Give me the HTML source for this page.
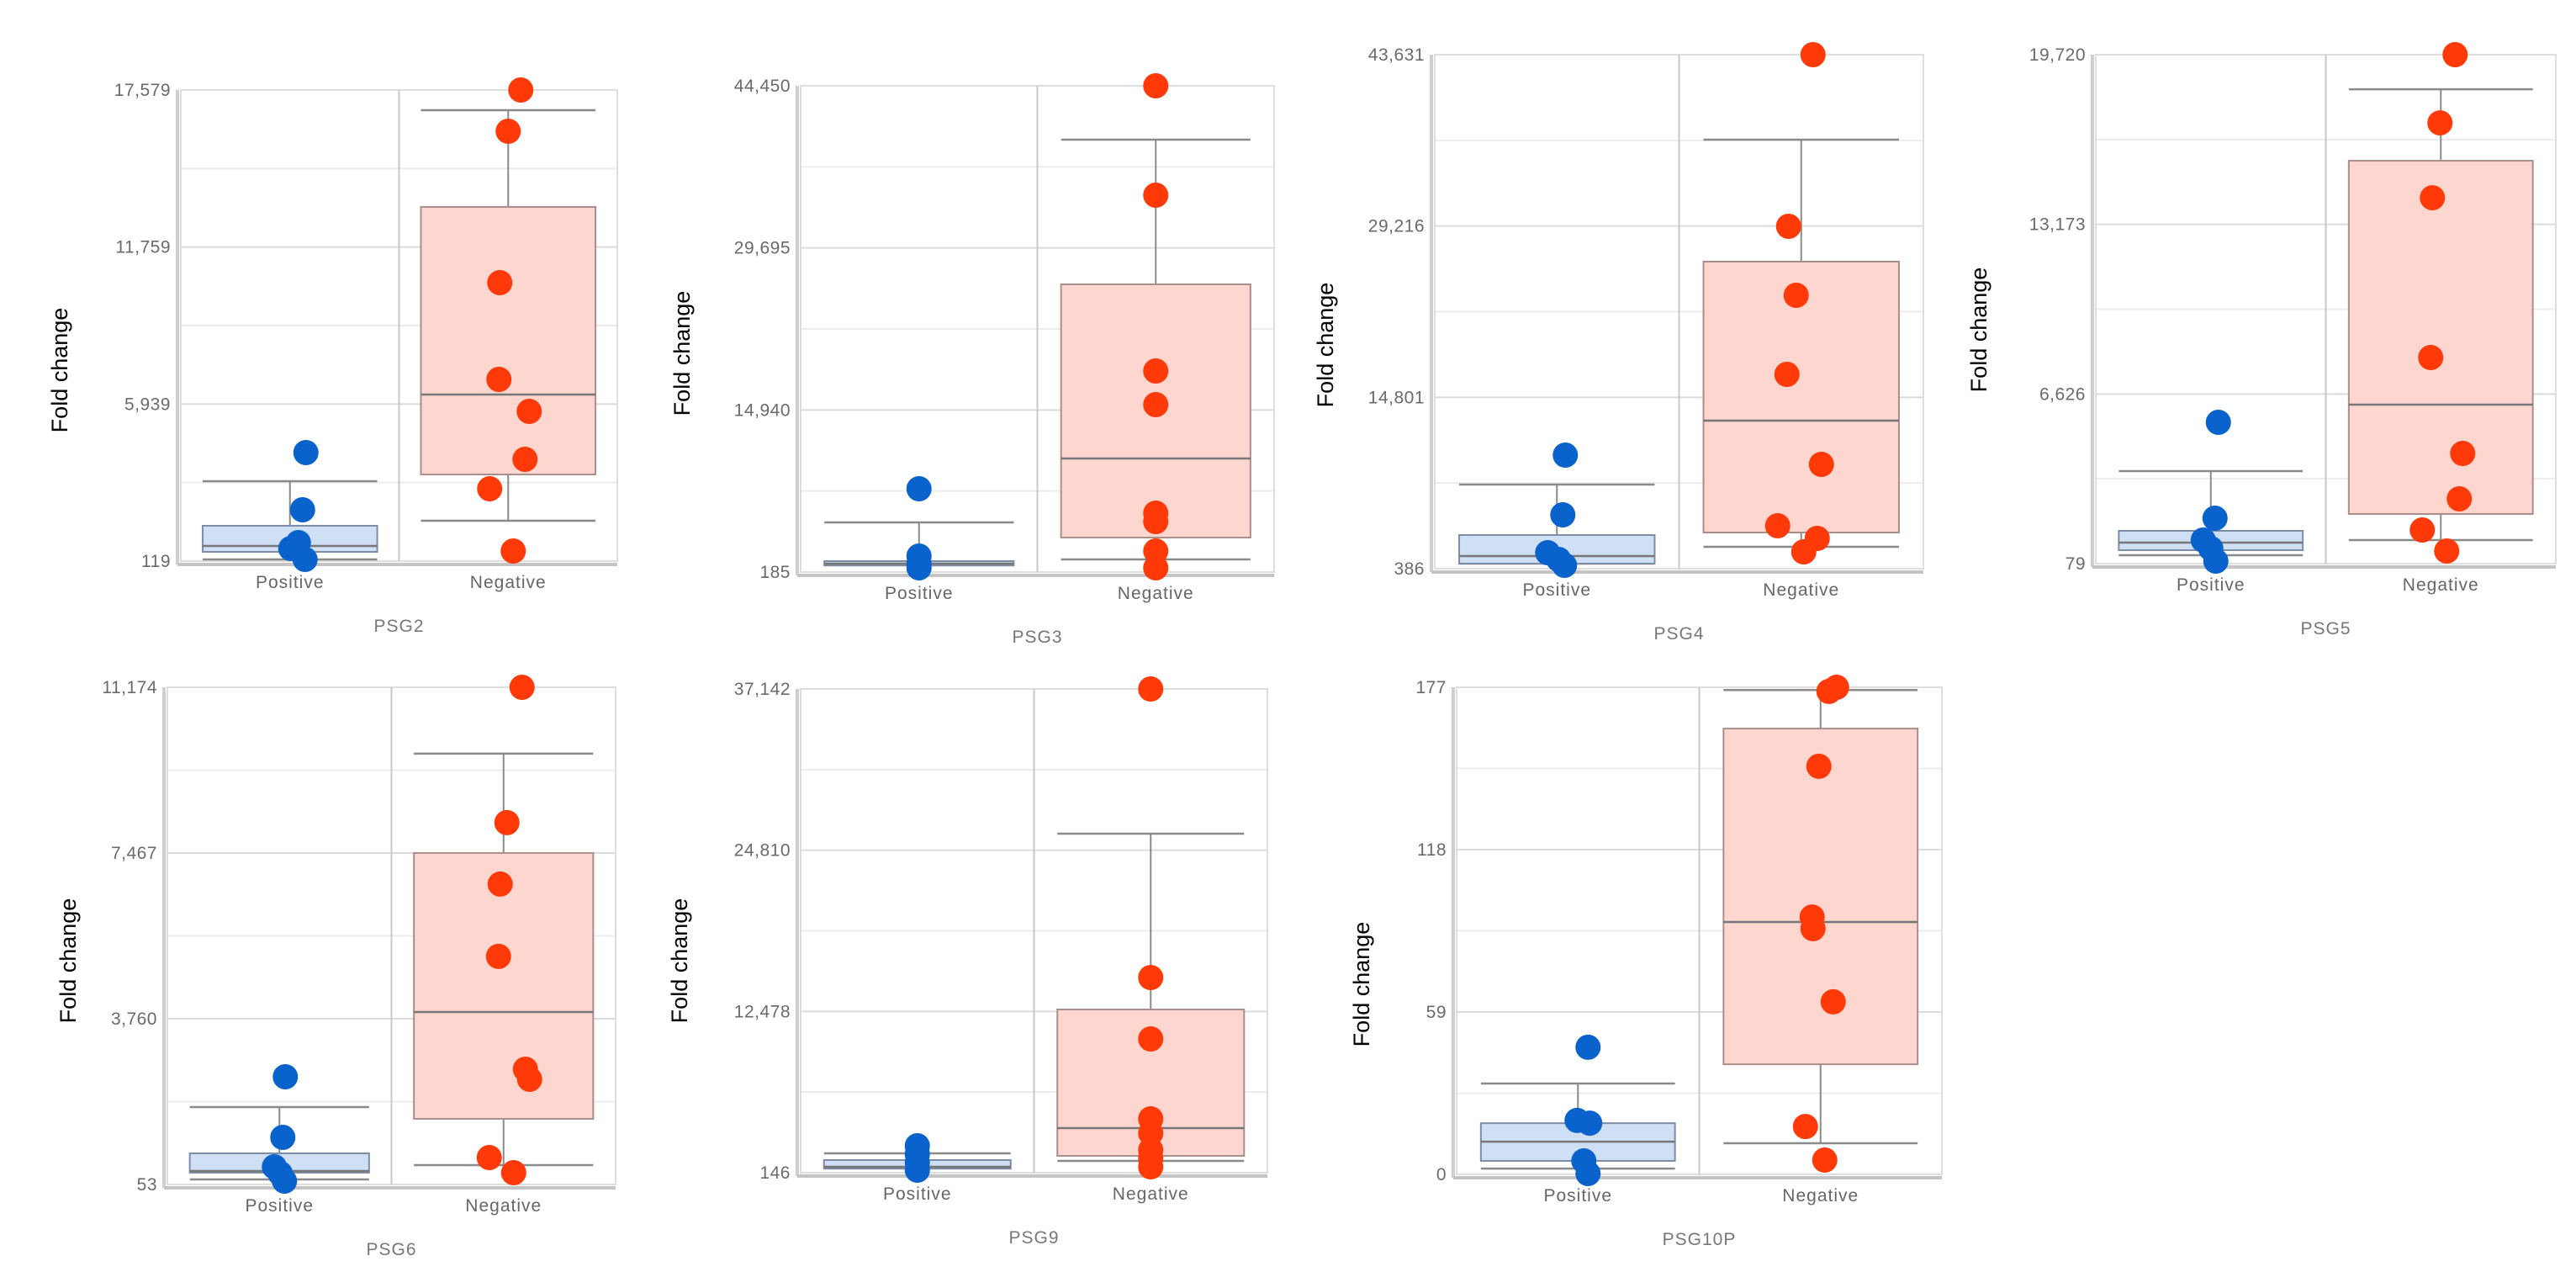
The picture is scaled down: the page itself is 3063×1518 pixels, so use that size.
<!DOCTYPE html>
<html>
<head>
<meta charset="utf-8">
<style>
html,body{margin:0;padding:0;background:#fff;}
svg{display:block;}
text{font-family:"Liberation Sans","DejaVu Sans",sans-serif;}
</style>
</head>
<body>
<svg id="fig" width="3063" height="1518" viewBox="0 0 3063 1518" xmlns="http://www.w3.org/2000/svg"></svg>
<script>
// ---- data ----
const categories = ["Positive", "Negative"];
const panelTitles = ["PSG2", "PSG3", "PSG4", "PSG5", "PSG6", "PSG9", "PSG10P"];
const axisMin = [119, 185, 386, 79, 53, 146, 0];
const axisMax = [17579, 44450, 43631, 19720, 11174, 37142, 177];
const tickLabels = [
  ["119", "5,939", "11,759", "17,579"],
  ["185", "14,940", "29,695", "44,450"],
  ["386", "14,801", "29,216", "43,631"],
  ["79", "6,626", "13,173", "19,720"],
  ["53", "3,760", "7,467", "11,174"],
  ["146", "12,478", "24,810", "37,142"],
  ["0", "59", "118", "177"]
];
// positive group points
const positivePoints = [
  [4141, 2021, 805, 586, 181],
  [7766, 1640, 951, 568],
  [9941, 4916, 1731, 1165, 669],
  [5532, 1832, 988, 663, 176],
  [2462, 1107, 448, 298, 128],
  [2205, 1561, 918, 339],
  [46.2, 19.6, 18.6, 4.9, 0.3]
];
// negative group points
const negativePoints = [
  [17579, 16050, 10440, 6854, 5670, 3892, 2800, 493],
  [44450, 34493, 18488, 15424, 5546, 4780, 2100, 568],
  [43631, 29194, 23390, 16736, 9163, 3996, 2934, 1802],
  [19720, 17088, 14199, 8032, 4331, 2578, 1377, 566],
  [11174, 8146, 6772, 5154, 2631, 2406, 655, 316],
  [37142, 15073, 10376, 4264, 3170, 1883, 1240, 596],
  [177, 175.5, 148.3, 93.5, 89.3, 62.7, 17.4, 5.2]
];
// box stats [whiskerLow, q1, median, q3, whiskerHigh]
const positiveBox = [
  [181, 462, 680, 1428, 3081],
  [798, 798, 951, 1180, 4703],
  [811, 811, 1448, 3217, 7464],
  [404, 598, 891, 1345, 3650],
  [166, 316, 354, 749, 1784],
  [468, 468, 596, 1111, 1626],
  [2.1, 4.9, 11.9, 18.6, 33]
];
const negativeBox = [
  [1616, 3330, 6293, 13246, 16832],
  [1334, 3325, 10523, 26376, 39549],
  [2226, 3430, 12843, 26221, 36484],
  [988, 1994, 6214, 15627, 18386],
  [486, 1521, 3911, 7468, 9689],
  [1047, 1433, 3556, 12628, 26075],
  [11.3, 40, 91.7, 162, 176]
];

// ---- layout (pixels, not data) ----
const layout = [
  {l:215, r:734, t:107, b:667, flx:80, fly:440},
  {l:952, r:1515, t:102, b:680, flx:820, fly:420},
  {l:1706, r:2287, t:65, b:676, flx:1585, fly:410},
  {l:2492, r:3039, t:65, b:670, flx:2362, fly:392},
  {l:199, r:732, t:817, b:1408, flx:90, fly:1142},
  {l:952, r:1507, t:819, b:1394, flx:817, fly:1142},
  {l:1732, r:2309, t:817, b:1396, flx:1628, fly:1170}
];
const jitterPos = [
  [19,15,10,1,18],[0,0,0,0],[10,7,-11,2,9],[9,5,-9,0,6],[7,4,-6,1,6],[0,0,0,0],[12,-1,14,7,12]
];
const jitterNeg = [
  [15,0,-10,-11,25,20,-22,6],[0,0,0,0,0,0,0,0],[14,-15,-6,-17,24,-28,19,3],[17,-1,-10,-12,26,22,-22,7],[22,4,-4,-6,26,31,-17,12],[0,0,0,0,0,0,0,0],[19,10,-2,-10,-9,15,-18,5]
];

const NS = "http://www.w3.org/2000/svg";
const svg = document.getElementById("fig");
function mk(tag, attrs, parent) {
  const e = document.createElementNS(NS, tag);
  for (const k in attrs) e.setAttribute(k, attrs[k]);
  (parent || svg).appendChild(e);
  return e;
}

panelTitles.forEach((title, p) => {
  const L = layout[p];
  const g = mk("g", {});
  
  
  const yScale = v => L.b - (v - axisMin[p]) / (axisMax[p] - axisMin[p]) * (L.b - L.t);
  const bandW = (L.r - L.l) / 2;
  const xCenter = i => L.l + bandW * (i + 0.5);
  const nT = tickLabels[p].length;
  const tickVal = k => axisMin[p] + (axisMax[p] - axisMin[p]) * k / (nT - 1);

  // minor gridlines
  for (let k = 0; k < nT - 1; k++) {
    const y = yScale((tickVal(k) + tickVal(k + 1)) / 2);
    const gl = mk("line", {x1:L.l, x2:L.r, y1:y, y2:y, stroke:"#ececec", "stroke-width":2}, g);
    
    
  }
  // major gridlines + tick labels
  tickLabels[p].forEach((lab, k) => {
    const y = yScale(tickVal(k));
    const gl = mk("line", {x1:L.l, x2:L.r, y1:y, y2:y, stroke:"#dcdcdc", "stroke-width":2}, g);
    
    
    const t = mk("text", {x:L.l - 12, y:y + 7, "text-anchor":"end", "font-size":21, fill:"#6a6a6a", "letter-spacing":"0.5"}, g);
    t.textContent = lab;
    
    
  });
  // frame
  const fr = mk("rect", {x:L.l, y:L.t, width:L.r - L.l, height:L.b - L.t, fill:"none", stroke:"#dedede", "stroke-width":2}, g);
  
  
  const dv = mk("line", {x1:L.l + bandW, x2:L.l + bandW, y1:L.t, y2:L.b, stroke:"#c8c8c8", "stroke-width":2}, g);
  
  
  const ya = mk("line", {x1:L.l - 4, x2:L.l - 4, y1:L.t, y2:L.b + 4, stroke:"#cfcfcf", "stroke-width":4}, g);
  
  
  const xa = mk("line", {x1:L.l - 4, x2:L.r, y1:L.b + 4, y2:L.b + 4, stroke:"#c4c4c4", "stroke-width":4}, g);
  
  

  // boxes
  const boxes = [positiveBox[p], negativeBox[p]];
  const fills = ["#cfdff5", "#fdd6d0"];
  const strokes = ["#7d8da5", "#a98e8a"];
  boxes.forEach((bx, i) => {
    const cx = xCenter(i), hw = bandW * 0.4;
    const wl = mk("line", {x1:cx, x2:cx, y1:yScale(bx[4]), y2:yScale(bx[0]), stroke:"#8a8a8a", "stroke-width":2}, g);
    
    
    [bx[0], bx[4]].forEach(v => {
      const cap = mk("line", {x1:cx - hw, x2:cx + hw, y1:yScale(v), y2:yScale(v), stroke:"#8a8a8a", "stroke-width":2.5}, g);
      
      
    });
    const r = mk("rect", {x:cx - hw, y:yScale(bx[3]), width:hw * 2, height:Math.max(2, yScale(bx[1]) - yScale(bx[3])), fill:fills[i], stroke:strokes[i], "stroke-width":2}, g);
    
    
    const md = mk("line", {x1:cx - hw, x2:cx + hw, y1:yScale(bx[2]), y2:yScale(bx[2]), stroke:"#777", "stroke-width":2.5}, g);
    
    
  });
  // points
  const pts = [positivePoints[p], negativePoints[p]];
  const jit = [jitterPos[p], jitterNeg[p]];
  const colors = ["#0a62cc", "#ff3a08"];
  pts.forEach((arr, i) => {
    arr.forEach((v, j) => {
      const c = mk("circle", {cx:xCenter(i) + (jit[i][j] || 0), cy:yScale(v), r:15, fill:colors[i]}, g);
      
      
    });
  });
  // category labels
  categories.forEach((cat, i) => {
    const t = mk("text", {x:xCenter(i), y:L.b + 32, "text-anchor":"middle", "font-size":21, fill:"#666", "letter-spacing":"1"}, g);
    t.textContent = cat;
    
    
  });
  // title
  const tt = mk("text", {x:L.l + bandW, y:L.b + 84, "text-anchor":"middle", "font-size":21, fill:"#777", "letter-spacing":"1"}, g);
  tt.textContent = title;
  
  
  // y label
  const yl = mk("text", {x:L.flx, y:L.fly, "text-anchor":"middle", "font-size":27, fill:"#000", transform:"rotate(-90 " + L.flx + " " + L.fly + ")"}, g);
  yl.textContent = "Fold change";
  
  
});
</script>
</body>
</html>
